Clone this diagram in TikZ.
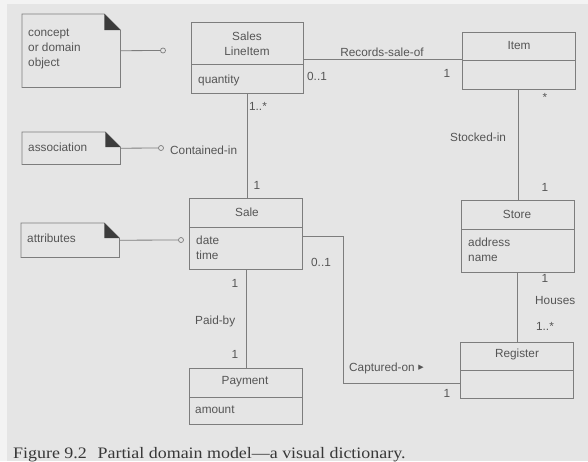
\documentclass[tikz,border=0pt]{standalone}
\usepackage{fontspec}
\setmainfont{Liberation Sans}
\newfontfamily\capfont{Liberation Serif}
\newfontfamily\symfont{DejaVu Sans}
\definecolor{bgmain}{RGB}{229,229,229}
\definecolor{bgedge}{RGB}{243,243,243}
\definecolor{ink}{RGB}{85,85,85}
\definecolor{lineclr}{RGB}{125,125,125}
\definecolor{foldclr}{RGB}{60,60,60}
\definecolor{capclr}{RGB}{55,55,55}
\begin{document}
\begin{tikzpicture}[x=1pt,y=-1pt,
  txt/.style={inner sep=0pt,text=ink,font=\fontsize{11.8}{15}\selectfont},
  ltxt/.style={txt,align=left,anchor=west},
  ctxt/.style={txt,align=center},
  classbox/.style={draw=lineclr,line width=0.8pt,inner sep=0pt,anchor=north west},
  notebox/.style={inner sep=0pt,anchor=north west},
  boxline/.style={draw=lineclr,line width=0.8pt},
  assoc/.style={draw=lineclr,line width=0.8pt},
  foldfill/.style={fill=foldclr},
  pin/.style={circle,draw=lineclr,line width=0.7pt,fill=bgmain,inner sep=0pt,minimum size=5pt}
]
\useasboundingbox (0,0) rectangle (588,461);
\fill[bgedge] (0,0) rectangle (588,461);
\fill[bgmain] (7,4) rectangle (588,461);

% ---------- notes ----------
\node[notebox,minimum width=98pt,minimum height=73pt] (n1) at (22,14) {};
\node[notebox,minimum width=98pt,minimum height=32pt] (n2) at (22,132) {};
\node[notebox,minimum width=98pt,minimum height=34pt] (n3) at (21,223) {};
\foreach \n/\f in {n1/16,n2/15,n3/15}{
  \draw[boxline] (\n.north west) -- ([xshift=-\f pt]\n.north east) -- ([yshift=-\f pt]\n.north east)
     -- (\n.south east) -- (\n.south west) -- cycle;
  \fill[foldfill] ([xshift=-\f pt]\n.north east) -- ([xshift=-\f pt,yshift=-\f pt]\n.north east)
     -- ([yshift=-\f pt]\n.north east) -- cycle;
}
\node[ltxt] (n1t) at (28,49.3) {concept\\or domain\\object};
\node[ltxt] (n2t) at (28,147) {association};
\node[ltxt] (n3t) at (27,238) {attributes};

\node[pin] (p1) at (163,50.5) {};
\node[pin] (p2) at (161,148) {};
\node[pin] (p3) at (181,240) {};
\draw[assoc] (n1.east) -- (p1);
\draw[assoc] (n2.east) -- (p2);
\draw[assoc] (n3.east) -- (p3);

% ---------- classes ----------
\node[classbox,minimum width=112pt,minimum height=71pt] (sli) at (191,22) {};
\draw[boxline] (sli.west |- 0,64) -- (sli.east |- 0,64);
\node[ctxt] (slit) at (247,43.5) {Sales\\LineItem};
\node[ltxt] (slia) at (198,80) {quantity};

\node[classbox,minimum width=113pt,minimum height=57pt] (item) at (462,32) {};
\draw[boxline] (item.west |- 0,60) -- (item.east |- 0,60);
\node[ctxt] (itemt) at (519,45) {Item};

\node[classbox,minimum width=113pt,minimum height=71pt] (sale) at (189,198) {};
\draw[boxline] (sale.west |- 0,227) -- (sale.east |- 0,227);
\node[ctxt] (salet) at (247,212) {Sale};
\node[ltxt] (salea) at (196,247.5) {date\\time};

\node[classbox,minimum width=113pt,minimum height=56pt] (pay) at (189,368) {};
\draw[boxline] (pay.west |- 0,397) -- (pay.east |- 0,397);
\node[ctxt] (payt) at (245,382) {Payment};
\node[ltxt] (paya) at (195,410) {amount};

\node[classbox,minimum width=113pt,minimum height=72pt] (store) at (461,200) {};
\draw[boxline] (store.west |- 0,229) -- (store.east |- 0,229);
\node[ctxt] (storet) at (517,214) {Store};
\node[ltxt] (storea) at (468,249.5) {address\\name};

\node[classbox,minimum width=113pt,minimum height=56pt] (reg) at (460,342) {};
\draw[boxline] (reg.west |- 0,370) -- (reg.east |- 0,370);
\node[ctxt] (regt) at (517,354) {Register};

% ---------- associations ----------
\draw[assoc] (sli.east |- 0,59) -- (item.west |- 0,59);
\node[ctxt] (l1) at (382,52) {Records-sale-of};
\node[ctxt] (m1a) at (317,76) {0..1};
\node[ctxt] (m1b) at (447,73) {1};

\draw[assoc] (sli.south -| 247,0) -- (sale.north -| 247,0);
\node[ctxt] (m2a) at (258,106) {1..*};
\node[ctxt] (m2b) at (257,185) {1};
\node[ltxt] (l2) at (170,150) {Contained-in};

\draw[assoc] (sale.south) -- (pay.north);
\node[ctxt] (m3a) at (235,283) {1};
\node[ltxt] (l3) at (195,321) {Paid-by};
\node[ctxt] (m3b) at (235,354) {1};

\draw[assoc] (item.south -| 518,0) -- (store.north -| 518,0);
\node[ctxt] (m4a) at (545,97) {*};
\node[ltxt] (l4) at (450,137) {Stocked-in};
\node[ctxt] (m4b) at (545,187) {1};

\draw[assoc] (store.south -| 517,0) -- (reg.north -| 517,0);
\node[ctxt] (m5a) at (545,278) {1};
\node[ltxt] (l5) at (535,300) {Houses};
\node[ctxt] (m5b) at (545,326) {1..*};

\draw[assoc] (sale.east |- 0,236) -- (343,236) -- (343,383) -- (reg.west |- 0,383);
\node[ctxt] (m6a) at (321,262) {0..1};
\node[ltxt] (l6) at (349,368) {Captured-on\hspace{0.3em}\raisebox{2pt}{\symfont\fontsize{7}{7}\selectfont ▶}};
\node[ctxt] (m6b) at (447,393) {1};

% ---------- caption ----------
\node[anchor=base west,inner sep=0pt,text=capclr,font=\capfont\fontsize{16}{18}\selectfont] (cap) at (13,458)
  {\scalebox{1.12}[1]{Figure 9.2\hspace{0.6em}Partial domain model—a visual dictionary.}};
\end{tikzpicture}
\end{document}
